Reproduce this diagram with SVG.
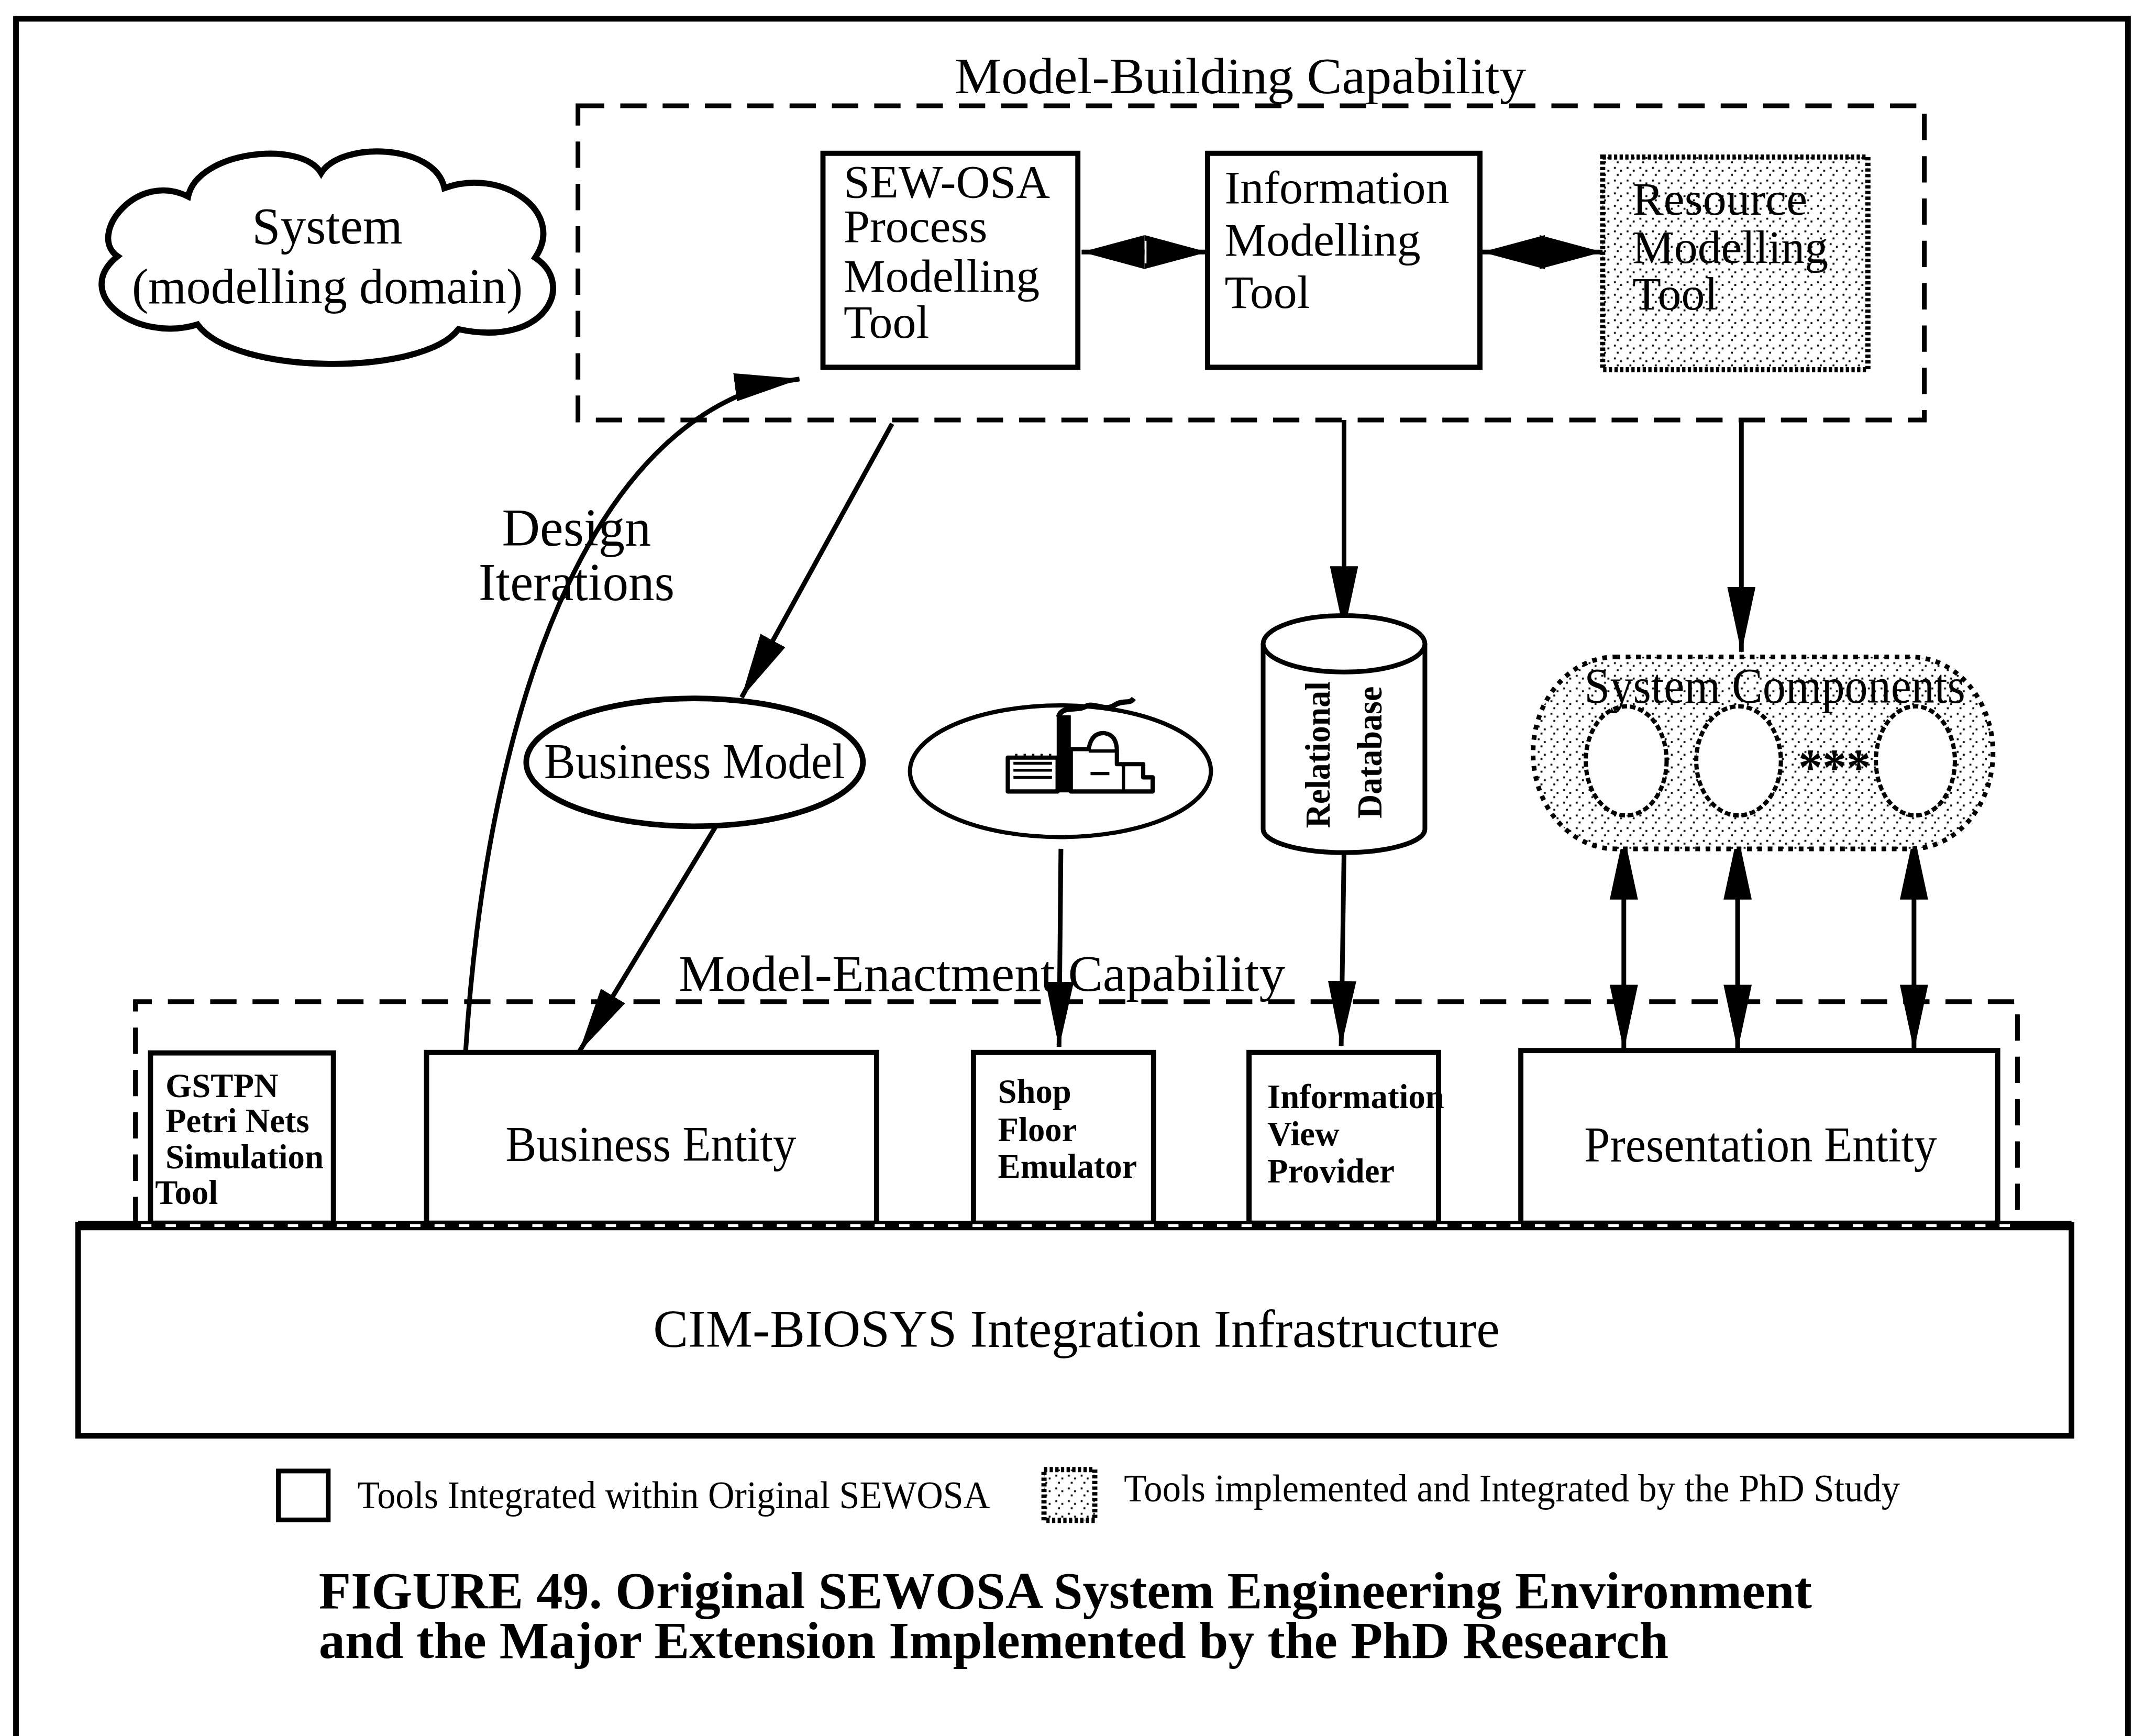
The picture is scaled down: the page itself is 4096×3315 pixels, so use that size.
<svg xmlns="http://www.w3.org/2000/svg" width="4096" height="3315" viewBox="0 0 4096 3315">
<defs>
<style>
 text { font-family: "Liberation Serif", "Times New Roman", serif; fill: #000; }
 .b { font-weight: bold; }
 .m { text-anchor: middle; }
 .box { fill: #fff; stroke: #000; stroke-width: 11; }
 .dash { fill: none; stroke: #000; stroke-width: 10; stroke-dasharray: 56 34; }
 .ln { fill: none; stroke: #000; stroke-width: 10; }
 .arr { marker-end: url(#ah); }
 .arr2 { marker-start: url(#ah); marker-end: url(#ah); }
 .dia { marker-start: url(#dm); marker-end: url(#dm); }
 .stip { fill: url(#stip); stroke: #000; stroke-width: 11; stroke-dasharray: 7 5; }
 .dots { fill: #fff; stroke: #000; stroke-width: 9; stroke-dasharray: 12 6; }
</style>
<pattern id="stip" width="27" height="27" patternUnits="userSpaceOnUse">
 <rect width="27" height="27" fill="#fff"/>
 <rect x="3" y="4" width="4" height="4" fill="#000"/>
 <rect x="16" y="10" width="4" height="4" fill="#000"/>
 <rect x="9" y="19" width="4" height="4" fill="#000"/>
</pattern>
<marker id="ah" viewBox="0 0 140 60" refX="138" refY="30" markerWidth="140" markerHeight="60" markerUnits="userSpaceOnUse" orient="auto-start-reverse">
 <path d="M0,0 L140,30 L0,60 Z" fill="#000"/>
</marker>
<marker id="dm" viewBox="0 0 134 72" refX="134" refY="36" markerWidth="134" markerHeight="72" markerUnits="userSpaceOnUse" orient="auto-start-reverse">
 <path d="M0,0 L134,36 L0,72 Z" fill="#000"/>
</marker>
</defs>

<rect width="4096" height="3315" fill="#fff"/>

<g transform="scale(0.898)">
 <!-- page frame -->
 <path d="M34,3700 V40 H4525 V3700" fill="none" stroke="#000" stroke-width="12"/>

 <!-- capability regions -->
 <g id="model-building">
  <rect class="dash" x="1229" y="225" width="2863" height="668"/>
  <text x="2030" y="198" font-size="108" textLength="1215" lengthAdjust="spacingAndGlyphs">Model-Building Capability</text>
 </g>
 <g id="model-enactment">
  <path class="dash" d="M288,2601 V2130 H4290 V2601"/>
  <text x="1443" y="2107" font-size="108" textLength="1290" lengthAdjust="spacingAndGlyphs">Model-Enactment Capability</text>
 </g>

 <!-- connectors -->
 <g id="connectors">
  <line class="ln dia" x1="2300" y1="536" x2="2568" y2="536"/>
  <line x1="2436" y1="512" x2="2436" y2="560" stroke="#fff" stroke-width="4"/>
  <line class="ln dia" x1="3151" y1="536" x2="3408" y2="536"/>
  <path class="ln arr" d="M990,2238 C1040,1450 1280,860 1700,806"/>
  <line class="ln arr" x1="1897" y1="901" x2="1577" y2="1483"/>
  <line class="ln arr" x1="1521" y1="1759" x2="1232" y2="2236"/>
  <line class="ln arr" x1="2256" y1="1805" x2="2252" y2="2226"/>
  <line class="ln arr" x1="2858" y1="893" x2="2858" y2="1342"/>
  <line class="ln arr" x1="2858" y1="1813" x2="2852" y2="2224"/>
  <line class="ln arr" x1="3703" y1="893" x2="3703" y2="1386"/>
  <line class="ln arr2" x1="3453" y1="1775" x2="3453" y2="2232"/>
  <line class="ln arr2" x1="3695" y1="1775" x2="3695" y2="2232"/>
  <line class="ln arr2" x1="4070" y1="1775" x2="4070" y2="2232"/>
 </g>
 <text x="1226" y="1160" font-size="112" class="m">Design</text>
 <text x="1226" y="1276" font-size="112" class="m" textLength="417" lengthAdjust="spacingAndGlyphs">Iterations</text>

 <!-- modelling tools -->
 <g id="sewosa-tool">
  <rect class="box" x="1750" y="326" width="542" height="455"/>
  <text x="1794" y="420" font-size="100">SEW-OSA</text>
  <text x="1794" y="515" font-size="100">Process</text>
  <text x="1794" y="620" font-size="100">Modelling</text>
  <text x="1794" y="718" font-size="100">Tool</text>
 </g>
 <g id="information-tool">
  <rect class="box" x="2568" y="326" width="579" height="455"/>
  <text x="2604" y="432" font-size="100">Information</text>
  <text x="2604" y="544" font-size="100">Modelling</text>
  <text x="2604" y="655" font-size="100">Tool</text>
 </g>
 <g id="resource-tool">
  <rect class="stip" x="3408" y="334" width="564" height="452"/>
  <text x="3471" y="457" font-size="100">Resource</text>
  <text x="3471" y="559" font-size="100">Modelling</text>
  <text x="3471" y="658" font-size="100">Tool</text>
 </g>

 <!-- system cloud -->
 <g id="system-domain">
  <path d="M250,545 C185,500 290,362 400,418 C420,322 640,296 683,368 C725,300 925,305 945,400 C1065,355 1205,450 1138,548 C1225,605 1160,740 975,700 C900,800 500,800 420,690 C290,730 150,625 250,545 Z" fill="#fff" stroke="#000" stroke-width="13"/>
  <text x="696" y="518" font-size="110" class="m" textLength="320" lengthAdjust="spacingAndGlyphs">System</text>
  <text x="696" y="645" font-size="106" class="m" textLength="831" lengthAdjust="spacingAndGlyphs">(modelling domain)</text>
 </g>

 <!-- models and stores -->
 <g id="business-model">
  <ellipse cx="1477" cy="1621" rx="358" ry="136" fill="#fff" stroke="#000" stroke-width="12"/>
  <text x="1477" y="1655" font-size="106" class="m" textLength="640" lengthAdjust="spacingAndGlyphs">Business Model</text>
 </g>
 <g id="shop-floor-model">
  <ellipse cx="2255" cy="1640" rx="320" ry="140" fill="#fff" stroke="#000" stroke-width="9"/>
  <g transform="translate(2139,1485)" stroke="#000" stroke-linejoin="round">
   <path d="M4,198 V126 H110 V198 Z" fill="#fff" stroke-width="9"/>
   <path d="M16,138 H98 M16,153 H98 M16,168 H98" fill="none" stroke-width="6"/>
   <path d="M22,128 V118 M40,128 V118 M58,128 V118 M76,128 V118 M94,128 V118" stroke-width="5"/>
   <rect x="108" y="36" width="30" height="164" fill="#000" stroke="none"/>
   <path d="M138,198 V108 H176 Q182,72 210,74 Q236,78 236,112 V140 H292 V168 H312 V198 Z" fill="#fff" stroke-width="9"/>
   <path d="M176,112 H236 M250,140 V198 M180,160 H220" fill="none" stroke-width="7"/>
   <path d="M112,40 C118,14 150,28 168,18 C188,6 210,30 232,14 C250,2 262,14 272,0" fill="none" stroke-width="11"/>
  </g>
 </g>
 <g id="relational-database">
  <path d="M2686,1369 V1763 A172,50 0 0 0 3030,1763 V1369" fill="#fff" stroke="#000" stroke-width="10"/>
  <ellipse cx="2858" cy="1369" rx="172" ry="60" fill="#fff" stroke="#000" stroke-width="10"/>
  <text transform="translate(2827,1605) rotate(-90)" font-size="76" class="b m" textLength="312" lengthAdjust="spacingAndGlyphs">Relational</text>
  <text transform="translate(2938,1600) rotate(-90)" font-size="76" class="b m" textLength="281" lengthAdjust="spacingAndGlyphs">Database</text>
 </g>
 <g id="system-components">
  <rect x="3260" y="1397" width="978" height="408" rx="175" ry="204" fill="url(#stip)" stroke="#000" stroke-width="10" stroke-dasharray="10 12"/>
  <ellipse class="dots" cx="3458" cy="1618" rx="86" ry="116"/>
  <ellipse class="dots" cx="3697" cy="1618" rx="90" ry="116"/>
  <ellipse class="dots" cx="4073" cy="1618" rx="84" ry="116"/>
  <text x="3901" y="1668" font-size="110" class="b m" textLength="154" lengthAdjust="spacingAndGlyphs">***</text>
  <text x="3774" y="1495" font-size="106" class="m" textLength="810" lengthAdjust="spacingAndGlyphs">System Components</text>
 </g>

 <!-- enactment entities -->
 <g id="gstpn-tool">
  <rect class="box" x="320" y="2239" width="389" height="362"/>
  <text x="352" y="2333" font-size="72" class="b">GSTPN</text>
  <text x="352" y="2408" font-size="72" class="b">Petri Nets</text>
  <text x="352" y="2484" font-size="72" class="b">Simulation</text>
  <text x="330" y="2560" font-size="72" class="b">Tool</text>
 </g>
 <g id="business-entity">
  <rect class="box" x="907" y="2238" width="957" height="363"/>
  <text x="1384" y="2469" font-size="106" class="m" textLength="618" lengthAdjust="spacingAndGlyphs">Business Entity</text>
 </g>
 <g id="shop-floor-emulator">
  <rect class="box" x="2070" y="2238" width="383" height="363"/>
  <text x="2122" y="2345" font-size="72" class="b">Shop</text>
  <text x="2122" y="2427" font-size="72" class="b">Floor</text>
  <text x="2122" y="2505" font-size="72" class="b">Emulator</text>
 </g>
 <g id="information-view-provider">
  <rect class="box" x="2656" y="2238" width="403" height="363"/>
  <text x="2695" y="2356" font-size="72" class="b">Information</text>
  <text x="2695" y="2435" font-size="72" class="b">View</text>
  <text x="2695" y="2515" font-size="72" class="b">Provider</text>
 </g>
 <g id="presentation-entity">
  <rect class="box" x="3234" y="2234" width="1014" height="367"/>
  <text x="3744" y="2470" font-size="106" class="m" textLength="750" lengthAdjust="spacingAndGlyphs">Presentation Entity</text>
 </g>

 <!-- integration infrastructure -->
 <g id="cim-biosys">
  <rect x="166" y="2604" width="4239" height="449" fill="#fff" stroke="#000" stroke-width="12"/>
  <line x1="166" y1="2606" x2="4405" y2="2606" stroke="#000" stroke-width="20"/>
  <line x1="300" y1="2606" x2="4280" y2="2606" stroke="#fff" stroke-width="6" stroke-dasharray="22 30"/>
  <text x="2289" y="2864" font-size="114" class="m" textLength="1800" lengthAdjust="spacingAndGlyphs">CIM-BIOSYS Integration Infrastructure</text>
 </g>

 <!-- legend -->
 <g id="legend">
  <rect x="592" y="3128" width="106" height="104" fill="#fff" stroke="#000" stroke-width="10"/>
  <text x="760" y="3207" font-size="82" textLength="1345" lengthAdjust="spacingAndGlyphs">Tools Integrated within Original SEWOSA</text>
  <rect class="stip" x="2220" y="3125" width="108" height="108" stroke-width="9"/>
  <text x="2390" y="3193" font-size="82" textLength="1650" lengthAdjust="spacingAndGlyphs">Tools implemented and Integrated by the PhD Study</text>
 </g>

 <!-- caption -->
 <g id="caption">
  <text x="678" y="3420" font-size="110" class="b" textLength="3175" lengthAdjust="spacingAndGlyphs">FIGURE 49. Original SEWOSA System Engineering Environment</text>
  <text x="678" y="3526" font-size="110" class="b" textLength="2870" lengthAdjust="spacingAndGlyphs">and the Major Extension Implemented by the PhD Research</text>
 </g>
</g>
</svg>
